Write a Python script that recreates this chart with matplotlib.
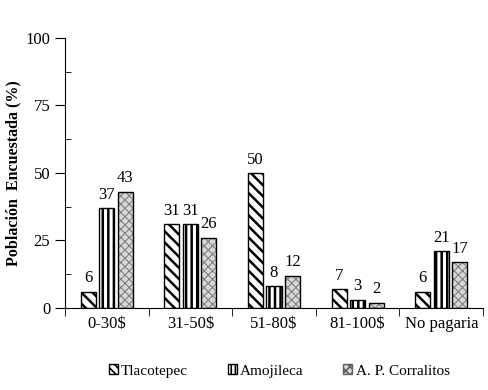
import matplotlib
matplotlib.use("Agg")
import matplotlib.pyplot as plt
import numpy as np
from matplotlib.patches import Patch
from matplotlib.ticker import MultipleLocator

categories = ["0-30$", "31-50$", "51-80$", "81-100$", "No pagaria"]
tlacotepec = [6, 31, 50, 7, 6]
amojileca = [37, 31, 8, 3, 21]
corralitos = [43, 26, 12, 2, 17]
series_names = ["Tlacotepec", "Amojileca", "A. P. Corralitos"]

plt.rcParams['font.family'] = ['Liberation Serif', 'DejaVu Serif']

fig = plt.figure(figsize=(4.88, 3.90), dpi=100)
ax = fig.add_axes([0.133, 0.2103, 0.857, 0.6923])

x = np.arange(len(categories))
w = 0.18
step = 0.22

plt.rcParams['hatch.linewidth'] = 1.8
b1 = ax.bar(x - step, tlacotepec, w, facecolor='white', edgecolor='black', hatch='\\\\\\', linewidth=1)
b2 = ax.bar(x, amojileca, w, facecolor='white', edgecolor='black', hatch='|||', linewidth=1)
plt.rcParams['hatch.linewidth'] = 0.8
b3h = ax.bar(x + step, corralitos, w, facecolor='#d8d8d8', edgecolor='#808080', hatch='xxxx', linewidth=0)
b3 = ax.bar(x + step, corralitos, w, facecolor='none', edgecolor='black', linewidth=1)

for bars, vals in ((b1, tlacotepec), (b2, amojileca), (b3, corralitos)):
    for r, v in zip(bars, vals):
        ax.text(r.get_x() + r.get_width() / 2, v + 2, str(v), ha='center', va='bottom', fontsize=12)

ax.set_xlim(-0.5, len(categories) - 0.5)
ax.set_ylim(0, 100)
ax.yaxis.set_major_locator(MultipleLocator(25))
ax.yaxis.set_minor_locator(MultipleLocator(12.5))
ax.tick_params(axis='y', which='major', direction='out', length=7, labelsize=12)
ax.tick_params(axis='y', which='minor', direction='in', length=4)
ax.set_xticks(x)
ax.set_xticklabels(categories, fontsize=12)
ax.tick_params(axis='x', which='major', length=0, pad=6)
ax.set_xticks(np.arange(len(categories) + 1) - 0.5, minor=True)
ax.tick_params(axis='x', which='minor', direction='out', length=6)
ax.spines['top'].set_visible(False)
ax.spines['right'].set_visible(False)
ax.set_ylabel("Población  Encuestada (%)", fontsize=11.5, fontweight='bold')
ax.yaxis.set_label_coords(-0.105, 0.5)

plt.rcParams['hatch.linewidth'] = 1.2
handles = [
    Patch(facecolor='white', edgecolor='black', hatch='\\\\\\\\', label=series_names[0]),
    Patch(facecolor='white', edgecolor='black', hatch='||||', label=series_names[1]),
    Patch(facecolor='#d8d8d8', edgecolor='#606060', hatch='xxxx', label=series_names[2]),
]
fig.legend(handles=handles, loc='center', bbox_to_anchor=(0.572, 0.049), ncol=3, frameon=False,
           fontsize=11, handlelength=0.6, handleheight=0.6, handletextpad=0.2, columnspacing=2.6)

fig.savefig("out.png", dpi=100)
